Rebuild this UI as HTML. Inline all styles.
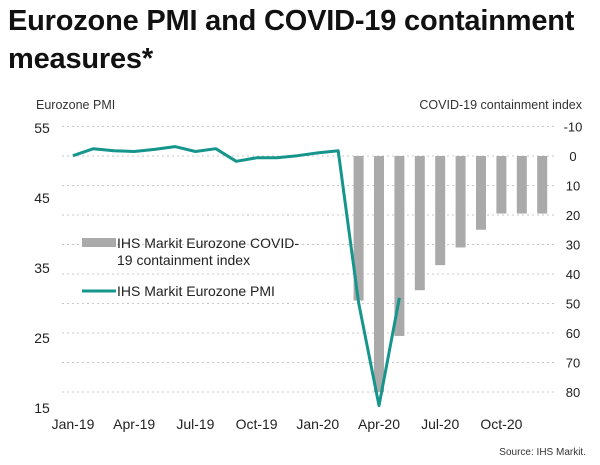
<!DOCTYPE html>
<html><head><meta charset="utf-8"><style>
body{margin:0;background:#fff;font-family:"Liberation Sans",sans-serif;}
#title{position:absolute;left:8px;top:2px;font-size:29px;font-weight:bold;line-height:38px;color:#111;margin:0;letter-spacing:-0.2px;white-space:nowrap;}
</style></head><body>
<div style="position:relative;width:600px;height:465px;overflow:hidden">
<h1 id="title">Eurozone PMI and COVID-19 containment<br>measures*</h1>
<svg id="c" width="600" height="465" style="position:absolute;left:0;top:0"></svg>
</div>
<script>
const months=['Jan-19','Feb-19','Mar-19','Apr-19','May-19','Jun-19','Jul-19','Aug-19','Sep-19','Oct-19','Nov-19','Dec-19','Jan-20','Feb-20','Mar-20','Apr-20','May-20','Jun-20','Jul-20','Aug-20','Sep-20','Oct-20','Nov-20','Dec-20'];
const pmi=[50.9,51.9,51.6,51.5,51.8,52.2,51.5,51.9,50.1,50.6,50.6,50.9,51.3,51.6,29.9,15.2,30.6];
const contain=[null,null,null,null,null,null,null,null,null,null,null,null,null,null,49,80,61,45.5,37,31,25,19.5,19.5,19.5];
const leftTicks=[55,45,35,25,15];
const rightTicks=[-10,0,10,20,30,40,50,60,70,80];
const xLabels=['Jan-19','Apr-19','Jul-19','Oct-19','Jan-20','Apr-20','Jul-20','Oct-20'];
const NS='http://www.w3.org/2000/svg',svg=document.getElementById('c');
const x=i=>73+i*20.4;
const yL=v=>127+(55-v)*7;
const yR=v=>156+v*2.95;
function mk(t,a,p){const e=document.createElementNS(NS,t);for(const k in a)e.setAttribute(k,a[k]);(p||svg).appendChild(e);return e;}
function txt(s,a){const e=mk('text',a);e.textContent=s;return e;}
rightTicks.forEach(v=>{
const g=mk('line',{x1:62,x2:554,y1:yR(v),y2:yR(v),stroke:'#c8c8c8','stroke-dasharray':'2,3','stroke-width':1});

const t=txt(v,{x:573,y:yR(v)+5,'font-size':13,fill:'#222','text-anchor':'middle'});

});
leftTicks.forEach(v=>{
const t=txt(v,{x:42,y:yL(v)+6,'font-size':14,fill:'#222','text-anchor':'middle'});

});
xLabels.forEach(l=>{const i=months.indexOf(l);
const t=txt(l,{x:x(i),y:429,'font-size':14,fill:'#222','text-anchor':'middle'});
});
contain.forEach((v,i)=>{if(v==null)return;
const r=mk('rect',{x:x(i)-5,y:yR(0),width:10,height:yR(v)-yR(0),fill:'#aaaaaa'});
});
const pl=mk('polyline',{points:pmi.map((v,i)=>x(i)+','+yL(v)).join(' '),fill:'none',stroke:'#16958c','stroke-width':3,'stroke-linejoin':'round'});

let t;
t=txt('Eurozone PMI',{x:36,y:109,'font-size':12.5,fill:'#333'});
t=txt('COVID-19 containment index',{x:582,y:109,'font-size':12.5,fill:'#333','text-anchor':'end'});
let r=mk('rect',{x:82,y:238,width:34,height:9,fill:'#aaaaaa'});
t=txt('IHS Markit Eurozone COVID-',{x:117,y:248,'font-size':14,fill:'#222'});
t=txt('19 containment index',{x:117,y:265,'font-size':14,fill:'#222'});
let l=mk('line',{x1:82,x2:116,y1:291,y2:291,stroke:'#16958c','stroke-width':3});
t=txt('IHS Markit Eurozone PMI',{x:117,y:296,'font-size':14,fill:'#222'});
t=txt('Source: IHS Markit.',{x:586,y:455,'font-size':10,fill:'#333','text-anchor':'end'});
</script>
</body></html>
